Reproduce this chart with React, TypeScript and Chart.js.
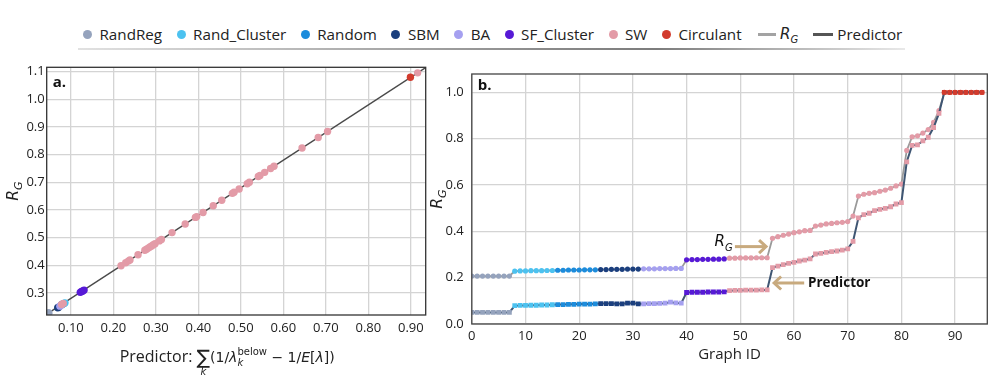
import React, { useEffect, useRef } from 'react';
import { Chart, registerables } from 'chart.js';
Chart.register(...registerables);

// ---------- shared categories ----------
const groupNames = ['RandReg', 'Rand_Cluster', 'Random', 'SBM', 'BA', 'SF_Cluster', 'SW', 'Circulant'];
const groupColors = ['#95a3bd', '#4cc2f0', '#1c8cdc', '#1b3f7e', '#a5a0f0', '#5719d6', '#e39ba7', '#d23b2d'];
const groupSizes = [8, 8, 8, 8, 8, 8, 40, 8];

// ---------- panel a data ----------
const aXTicks = [0.1, 0.2, 0.3, 0.4, 0.5, 0.6, 0.7, 0.8, 0.9];
const aYTicks = [0.3, 0.4, 0.5, 0.6, 0.7, 0.8, 0.9, 1.0, 1.1];
const aRandRegX = [0.046, 0.047, 0.047, 0.048];
const aRandRegY = [0.225, 0.226, 0.227, 0.227];
const aRandClusterX = [0.084, 0.086];
const aRandClusterY = [0.262, 0.264];
const aRandomX = [0.078, 0.080];
const aRandomY = [0.257, 0.259];
const aSbmX = [0.069, 0.071];
const aSbmY = [0.246, 0.248];
const aBaX = [0.074, 0.076];
const aBaY = [0.252, 0.254];
const aSfClusterX = [0.122, 0.125, 0.128, 0.131];
const aSfClusterY = [0.302, 0.305, 0.307, 0.310];
const aSwX = [0.078, 0.082, 0.218, 0.229, 0.235, 0.239, 0.258, 0.274, 0.278, 0.282, 0.286, 0.290, 0.294, 0.298, 0.308, 0.313, 0.338, 0.369, 0.393, 0.396, 0.411, 0.435, 0.455, 0.480, 0.484, 0.496, 0.515, 0.520, 0.541, 0.545, 0.556, 0.570, 0.578, 0.644, 0.682, 0.704, 0.916];
const aSwY = [0.258, 0.262, 0.398, 0.409, 0.415, 0.419, 0.438, 0.454, 0.458, 0.462, 0.466, 0.470, 0.474, 0.478, 0.488, 0.493, 0.518, 0.549, 0.573, 0.576, 0.591, 0.615, 0.635, 0.660, 0.664, 0.676, 0.695, 0.700, 0.721, 0.725, 0.736, 0.750, 0.758, 0.824, 0.862, 0.884, 1.096];
const aCirculantX = [0.899];
const aCirculantY = [1.080];
const aFitX = [0.043, 0.935];
const aFitY = [0.223, 1.115];

// ---------- panel b data ----------
const bXTicks = [0, 10, 20, 30, 40, 50, 60, 70, 80, 90];
const bYTicks = [0, 0.2, 0.4, 0.6, 0.8, 1.0];
const rgValues = [
  0.207, 0.207, 0.207, 0.207, 0.207, 0.207, 0.207, 0.207,
  0.228, 0.229, 0.229, 0.230, 0.230, 0.230, 0.231, 0.231,
  0.232, 0.232, 0.233, 0.233, 0.233, 0.234, 0.234, 0.234,
  0.235, 0.235, 0.236, 0.236, 0.236, 0.237, 0.237, 0.237,
  0.238, 0.238, 0.238, 0.239, 0.239, 0.239, 0.240, 0.240,
  0.277, 0.278, 0.278, 0.279, 0.279, 0.280, 0.280, 0.281,
  0.284, 0.284, 0.285, 0.285, 0.285, 0.286, 0.286, 0.286,
  0.370, 0.377, 0.383, 0.388, 0.394, 0.398, 0.403, 0.404,
  0.423, 0.427, 0.432, 0.434, 0.437, 0.439, 0.442, 0.466,
  0.552, 0.560, 0.564, 0.567, 0.573, 0.578, 0.586, 0.596, 0.604,
  0.749, 0.808, 0.812, 0.824, 0.839, 0.870, 0.921,
  1.0, 1.0, 1.0, 1.0, 1.0, 1.0, 1.0, 1.0,
];
const predictorValues = [
  0.050, 0.050, 0.050, 0.050, 0.050, 0.050, 0.050, 0.050,
  0.079, 0.080, 0.080, 0.081, 0.081, 0.082, 0.082, 0.083,
  0.084, 0.084, 0.085, 0.085, 0.086, 0.086, 0.086, 0.087,
  0.088, 0.088, 0.088, 0.087, 0.087, 0.090, 0.090, 0.087,
  0.087, 0.088, 0.088, 0.089, 0.090, 0.094, 0.091, 0.090,
  0.136, 0.137, 0.137, 0.137, 0.138, 0.138, 0.138, 0.139,
  0.144, 0.145, 0.145, 0.146, 0.146, 0.146, 0.147, 0.147,
  0.243, 0.250, 0.256, 0.262, 0.266, 0.272, 0.276, 0.281,
  0.302, 0.305, 0.309, 0.312, 0.315, 0.319, 0.324, 0.357,
  0.458, 0.472, 0.478, 0.489, 0.495, 0.499, 0.506, 0.518, 0.524,
  0.700, 0.771, 0.773, 0.790, 0.806, 0.848, 0.909,
  1.0, 1.0, 1.0, 1.0, 1.0, 1.0, 1.0, 1.0,
];
// annotation anchors (data units of panel b)
const rgArrow = { x0: 49.0, x1: 54.8, y: 0.334, labelX: 48.6, labelY: 0.352 };
const predArrow = { x0: 61.9, x1: 56.3, y: 0.177, labelX: 62.6, labelY: 0.177 };

const TEXT = '#222222';
const GRID = '#d4d4d4';
const SANS = '"Open Sans", "DejaVu Sans", sans-serif';
const MATH = '"DejaVu Sans", sans-serif';

function pts(xs: number[], ys: number[]) {
  return xs.map((x, i) => ({ x, y: ys[i] }));
}

function pointColors() {
  const out: string[] = [];
  groupSizes.forEach((n, g) => {
    for (let i = 0; i < n; i++) out.push(groupColors[g]);
  });
  return out;
}

function drawRG(ctx: CanvasRenderingContext2D, x: number, y: number, size: number, align: 'left' | 'right' | 'center') {
  ctx.save();
  ctx.textBaseline = 'alphabetic';
  ctx.textAlign = 'left';
  const fR = `italic ${size}px ${MATH}`;
  const fG = `italic ${Math.round(size * 0.68)}px ${MATH}`;
  ctx.font = fR;
  const wR = ctx.measureText('R').width;
  ctx.font = fG;
  const wG = ctx.measureText('G').width;
  const total = wR + wG;
  let sx = x;
  if (align === 'right') sx = x - total;
  if (align === 'center') sx = x - total / 2;
  ctx.font = fR;
  ctx.fillText('R', sx, y);
  ctx.font = fG;
  ctx.fillText('G', sx + wR, y + size * 0.28);
  ctx.restore();
}

const frameA = {
  id: 'frameA',
  afterDraw(chart: any) {
    const { ctx, chartArea: a } = chart;
    ctx.save();
    ctx.strokeStyle = '#333333';
    ctx.lineWidth = 1.3;
    ctx.strokeRect(a.left, a.top, a.right - a.left, a.bottom - a.top);
    ctx.fillStyle = '#111';
    ctx.font = `bold 15px ${SANS}`;
    ctx.textBaseline = 'middle';
    ctx.textAlign = 'left';
    ctx.fillText('a.', a.left + 6, a.top + 15);

    // y title
    ctx.save();
    ctx.translate(13, (a.top + a.bottom) / 2);
    ctx.rotate(-Math.PI / 2);
    ctx.fillStyle = TEXT;
    drawRG(ctx, 0, 5, 15.5, 'center');
    ctx.restore();

    // x title with math
    const base = 307;
    const fMain = `16px ${SANS}`;
    const fSig = `20px ${MATH}`;
    const fM = `14px ${MATH}`;
    const fMi = `italic 14px ${MATH}`;
    const fS = `10px ${MATH}`;
    const fSi = `italic 10px ${MATH}`;
    const segs: { t: string; f: string; dy?: number; adv?: number }[] = [
      { t: 'Predictor: ', f: fMain },
      { t: '\u2211', f: fSig, dy: 2 },
      { t: '(1/', f: fM },
      { t: '\u03bb', f: fMi },
      { t: 'k', f: fSi, dy: 3.5, adv: 0 },
      { t: 'below', f: fS, dy: -7.5 },
      { t: ' \u2212 1/', f: fM },
      { t: 'E', f: fMi },
      { t: '[', f: fM },
      { t: '\u03bb', f: fMi },
      { t: '])', f: fM },
    ];
    let total = 0;
    const widths = segs.map((s) => {
      ctx.font = s.f;
      const w = s.adv !== undefined ? s.adv : ctx.measureText(s.t).width;
      total += w;
      return w;
    });
    let cx = (a.left + a.right) / 2 - 9 - total / 2;
    ctx.fillStyle = TEXT;
    ctx.textBaseline = 'alphabetic';
    segs.forEach((s, i) => {
      ctx.font = s.f;
      ctx.fillText(s.t, cx, base + (s.dy || 0));
      if (s.t === '\u2211') {
        const sw = ctx.measureText(s.t).width;
        ctx.font = fSi;
        const kw = ctx.measureText('k').width;
        ctx.fillText('k', cx + sw / 2 - kw / 2, base + 12.5);
      }
      cx += widths[i];
    });
    ctx.restore();
  },
};

const frameB = {
  id: 'frameB',
  afterDraw(chart: any) {
    const { ctx, chartArea: a, scales } = chart;
    ctx.save();
    ctx.strokeStyle = '#444444';
    ctx.lineWidth = 1.3;
    ctx.strokeRect(a.left, a.top, a.right - a.left, a.bottom - a.top);
    ctx.fillStyle = '#111';
    ctx.font = `bold 15px ${SANS}`;
    ctx.textBaseline = 'middle';
    ctx.textAlign = 'left';
    ctx.fillText('b.', a.left + 6, a.top + 12);

    // x title
    ctx.fillStyle = TEXT;
    ctx.font = `15px ${SANS}`;
    ctx.textAlign = 'center';
    ctx.fillText('Graph ID', (a.left + a.right) / 2, 300);

    // y title
    ctx.save();
    ctx.translate(7, (a.top + a.bottom) / 2);
    ctx.rotate(-Math.PI / 2);
    drawRG(ctx, 0, 5, 15.5, 'center');
    ctx.restore();

    // annotations
    const xs = scales.x;
    const ys = scales.y;
    const tan = '#c8aa7e';
    const arrow = (x0: number, x1: number, y: number) => {
      const p0 = xs.getPixelForValue(x0);
      const p1 = xs.getPixelForValue(x1);
      const py = ys.getPixelForValue(y);
      const dir = Math.sign(p1 - p0);
      ctx.strokeStyle = tan;
      ctx.lineWidth = 3;
      ctx.lineCap = 'butt';
      ctx.beginPath();
      ctx.moveTo(p0, py);
      ctx.lineTo(p1 - dir * 1.5, py);
      ctx.stroke();
      ctx.lineJoin = 'miter';
      ctx.beginPath();
      ctx.moveTo(p1 - dir * 7, py - 6.5);
      ctx.lineTo(p1, py);
      ctx.lineTo(p1 - dir * 7, py + 6.5);
      ctx.stroke();
    };
    arrow(rgArrow.x0, rgArrow.x1, rgArrow.y);
    arrow(predArrow.x0, predArrow.x1, predArrow.y);
    ctx.fillStyle = '#111';
    drawRG(ctx, xs.getPixelForValue(rgArrow.labelX), ys.getPixelForValue(rgArrow.labelY) + 4, 15, 'right');
    ctx.font = `bold 13.5px ${SANS}`;
    ctx.textAlign = 'left';
    ctx.textBaseline = 'middle';
    ctx.fillText('Predictor', xs.getPixelForValue(predArrow.labelX), ys.getPixelForValue(predArrow.labelY));
    ctx.restore();
  },
};

function PanelA() {
  const ref = useRef<HTMLCanvasElement>(null);
  useEffect(() => {
    const scatter = (xs: number[], ys: number[], color: string, order: number) => ({
      type: 'scatter' as const,
      data: pts(xs, ys),
      backgroundColor: color,
      borderColor: color,
      pointRadius: 3.7,
      pointBorderWidth: 0,
      order,
    });
    const chart = new Chart(ref.current!, {
      type: 'scatter',
      data: {
        datasets: [
          {
            type: 'line',
            data: pts(aFitX, aFitY),
            borderColor: '#4a4a4a',
            borderWidth: 1.4,
            pointRadius: 0,
            order: 20,
          } as any,
          scatter(aRandRegX, aRandRegY, groupColors[0], 9),
          scatter(aRandClusterX, aRandClusterY, groupColors[1], 7),
          scatter(aRandomX, aRandomY, groupColors[2], 6),
          scatter(aSbmX, aSbmY, groupColors[3], 8),
          scatter(aBaX, aBaY, groupColors[4], 5),
          scatter(aSfClusterX, aSfClusterY, groupColors[5], 4),
          scatter(aSwX, aSwY, groupColors[6], 1),
          scatter(aCirculantX, aCirculantY, groupColors[7], 2),
        ],
      },
      options: {
        animation: false,
        responsive: false,
        events: [],
        layout: { padding: { left: 0, right: 24.3, top: 12.3, bottom: 0 } },
        plugins: { legend: { display: false }, tooltip: { enabled: false } },
        scales: {
          x: {
            type: 'linear',
            min: 0.043,
            max: 0.935,
            afterBuildTicks: (s: any) => { s.ticks = aXTicks.map((v) => ({ value: v })); },
            afterFit: (s: any) => { s.height = 66; },
            ticks: {
              callback: (v: any) => Number(v).toFixed(2),
              font: { family: SANS, size: 13 },
              color: TEXT,
              padding: 5,
              maxRotation: 0,
              autoSkip: false,
            },
            grid: { color: GRID, lineWidth: 1.3, drawTicks: false },
            border: { display: false },
          },
          y: {
            type: 'linear',
            min: 0.22,
            max: 1.116,
            afterBuildTicks: (s: any) => { s.ticks = aYTicks.map((v) => ({ value: v })); },
            afterFit: (s: any) => { s.width = 46.7; },
            ticks: {
              callback: (v: any) => Number(v).toFixed(1),
              font: { family: SANS, size: 13 },
              color: TEXT,
              padding: 2,
              autoSkip: false,
            },
            grid: { color: GRID, lineWidth: 1.3, drawTicks: false },
            border: { display: false },
          },
        },
      } as any,
      plugins: [frameA],
    });
    return () => chart.destroy();
  }, []);
  return <canvas ref={ref} width={450} height={326} style={{ position: 'absolute', left: 0, top: 55, width: 450, height: 326 }} />;
}

function PanelB() {
  const ref = useRef<HTMLCanvasElement>(null);
  useEffect(() => {
    const colors = pointColors();
    const ids = rgValues.map((_, i) => i);
    const chart = new Chart(ref.current!, {
      type: 'line',
      data: {
        datasets: [
          {
            label: 'Predictor',
            data: ids.map((i) => ({ x: i, y: predictorValues[i] })),
            borderColor: '#3f5673',
            borderWidth: 2,
            pointStyle: 'rect',
            pointRadius: 3.4,
            pointBorderWidth: 0,
            pointBackgroundColor: colors,
            pointBorderColor: colors,
            order: 0,
          },
          {
            label: 'RG',
            data: ids.map((i) => ({ x: i, y: rgValues[i] })),
            borderColor: '#9a9a9a',
            borderWidth: 1.8,
            pointStyle: 'circle',
            pointRadius: 2.6,
            pointBorderWidth: 0,
            pointBackgroundColor: colors,
            pointBorderColor: colors,
            order: 1,
          },
        ],
      },
      options: {
        animation: false,
        responsive: false,
        events: [],
        layout: { padding: { left: 0, right: 8.7, top: 19, bottom: 0 } },
        plugins: { legend: { display: false }, tooltip: { enabled: false } },
        scales: {
          x: {
            type: 'linear',
            min: 0,
            max: 96,
            afterBuildTicks: (s: any) => { s.ticks = bXTicks.map((v) => ({ value: v })); },
            afterFit: (s: any) => { s.height = 57; },
            ticks: {
              callback: (v: any) => String(v),
              font: { family: SANS, size: 13 },
              color: TEXT,
              padding: 4,
              maxRotation: 0,
              autoSkip: false,
            },
            grid: { color: GRID, lineWidth: 1.3, drawTicks: false },
            border: { display: false },
          },
          y: {
            type: 'linear',
            min: 0,
            max: 1.079,
            afterBuildTicks: (s: any) => { s.ticks = bYTicks.map((v) => ({ value: v })); },
            afterFit: (s: any) => { s.width = 41.8; },
            ticks: {
              callback: (v: any) => Number(v).toFixed(1),
              font: { family: SANS, size: 13 },
              color: TEXT,
              padding: 8,
              autoSkip: false,
            },
            grid: { color: GRID, lineWidth: 1.3, drawTicks: false },
            border: { display: false },
          },
        },
      } as any,
      plugins: [frameB],
    });
    return () => chart.destroy();
  }, []);
  return <canvas ref={ref} width={566} height={326} style={{ position: 'absolute', left: 430, top: 55, width: 566, height: 326 }} />;
}

function Legend() {
  const item = (marker: React.ReactNode, label: React.ReactNode, key: string, gapAfter: number) => (
    <div key={key} style={{ display: 'flex', alignItems: 'center', marginRight: gapAfter }}>
      {marker}
      {label}
    </div>
  );
  const dot = (c: string) => (
    <span style={{ display: 'inline-block', width: 9, height: 9, borderRadius: '50%', background: c, marginRight: 7.5 }} />
  );
  const line = (c: string, w: number) => (
    <span style={{ display: 'inline-block', width: w, height: 3, background: c, marginRight: 4.5 }} />
  );
  return (
    <div
      style={{
        position: 'absolute',
        left: 83,
        top: 24,
        height: 20,
        display: 'flex',
        alignItems: 'center',
        fontFamily: SANS,
        fontSize: 15.2,
        color: TEXT,
        whiteSpace: 'nowrap',
      }}
    >
      {groupNames.map((n, i) => item(dot(groupColors[i]), <span>{n}</span>, n, i === groupNames.length - 1 ? 16 : 14.5))}
      {item(
        line('#a3a3a3', 18),
        <span style={{ fontFamily: MATH, fontStyle: 'italic', fontSize: 15 }}>
          R<span style={{ fontSize: 10, position: 'relative', top: 4 }}>G</span>
        </span>,
        'rg',
        14.5,
      )}
      {item(line('#555555', 20), <span>Predictor</span>, 'pred', 0)}
    </div>
  );
}

export default function App() {
  return (
    <div style={{ position: 'absolute', left: 0, top: 0, width: 996, height: 381, background: '#ffffff', overflow: 'hidden' }}>
      <Legend />
      <div
        style={{
          position: 'absolute',
          left: 78,
          top: 47.5,
          width: 827,
          height: 2,
          background: 'linear-gradient(to right, rgba(170,170,170,0.35), rgba(120,120,120,0.85) 55%, rgba(110,110,110,0.9) 70%, rgba(180,180,180,0.3))',
        }}
      />
      <PanelA />
      <PanelB />
    </div>
  );
}
